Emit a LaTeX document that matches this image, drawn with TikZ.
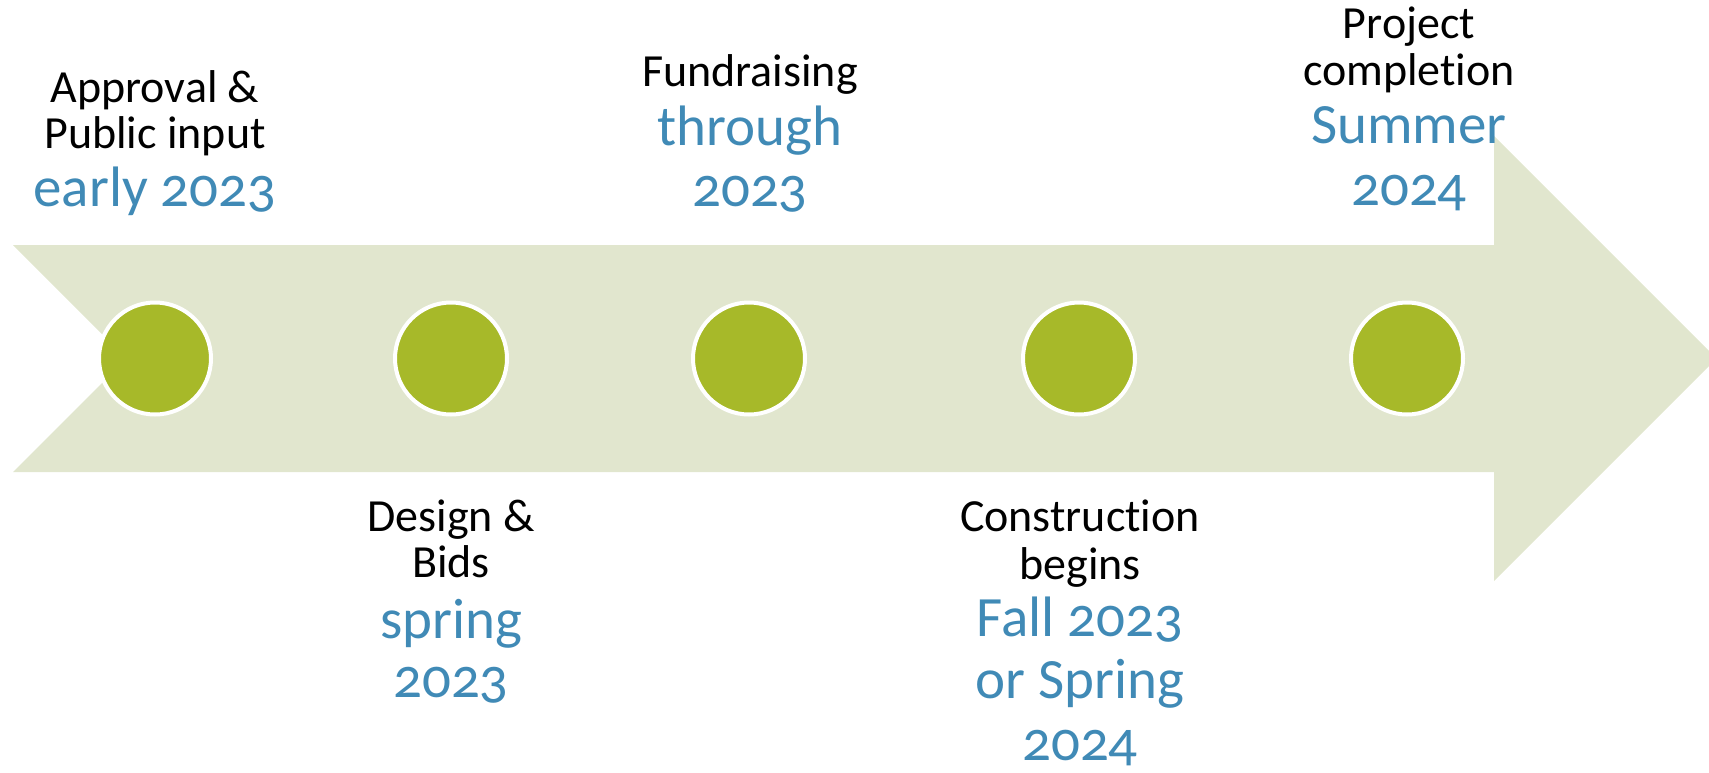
\documentclass[tikz,border=0pt]{standalone}
\usepackage{fontspec}
\setmainfont{Carlito}[Numbers=OldStyle,Ligatures=NoCommon]
\definecolor{arrowfill}{RGB}{225,230,206}
\definecolor{dotfill}{RGB}{167,185,41}
\definecolor{dateblue}{RGB}{64,138,182}
\tikzset{
  dot/.style={circle,fill=dotfill,draw=white,line width=4pt,minimum size=112pt,inner sep=0pt},
  lbl/.style={anchor=base,inner sep=0pt,font=\fontsize{46}{46}\selectfont,text=black},
  dte/.style={anchor=base,inner sep=0pt,font=\fontsize{57}{60}\selectfont,text=dateblue},
}
\begin{document}
\begin{tikzpicture}[x=1pt,y=-1pt]
\useasboundingbox (0,0) rectangle (1709,772);
\begin{scope}
\clip (0,0) rectangle (1709,772);
\fill[arrowfill] (13,245) -- (1494,245) -- (1494,136) -- (1716.5,358.5) -- (1494,581) -- (1494,472) -- (13,472) -- (126.5,358.5) -- cycle;
\end{scope}
\node[dot] (d1) at (155,358.5) {};
\node[dot] (d2) at (451,358.5) {};
\node[dot] (d3) at (749,358.5) {};
\node[dot] (d4) at (1079,358.5) {};
\node[dot] (d5) at (1407,358.5) {};
% item 1
\node[lbl] (t1a) at (155,102.7) {Approval \&};
\node[lbl] (t1b) at (155,148.3) {Public input};
\node[dte] (t1c) at (155,206.7) {early 2023};
% item 2
\node[lbl] (t2a) at (451,531.7) {Design \&};
\node[lbl] (t2b) at (451,577.3) {Bids};
\node[dte] (t2c) at (451,638.3) {spring};
\node[dte] (t2d) at (451,697.3) {2023};
% item 3
\node[lbl] (t3a) at (750,86.7) {Fundraising};
\node[dte] (t3b) at (750,145) {through};
\node[dte] (t3c) at (750,206.7) {2023};
% item 4
\node[lbl] (t4a) at (1080,531.7) {Construct\kern0pt ion};
\node[lbl] (t4b) at (1080,579) {begins};
\node[dte] (t4c) at (1080,636.7) {Fall 2023};
\node[dte] (t4d) at (1080,698.3) {or Spring};
\node[dte] (t4e) at (1080,760) {2024};
% item 5
\node[lbl] (t5a) at (1409,38.3) {Project};
\node[lbl] (t5b) at (1409,85) {complet\kern0pt ion};
\node[dte] (t5c) at (1409,143.3) {Summer};
\node[dte] (t5d) at (1409,205) {2024};
\end{tikzpicture}
\end{document}
